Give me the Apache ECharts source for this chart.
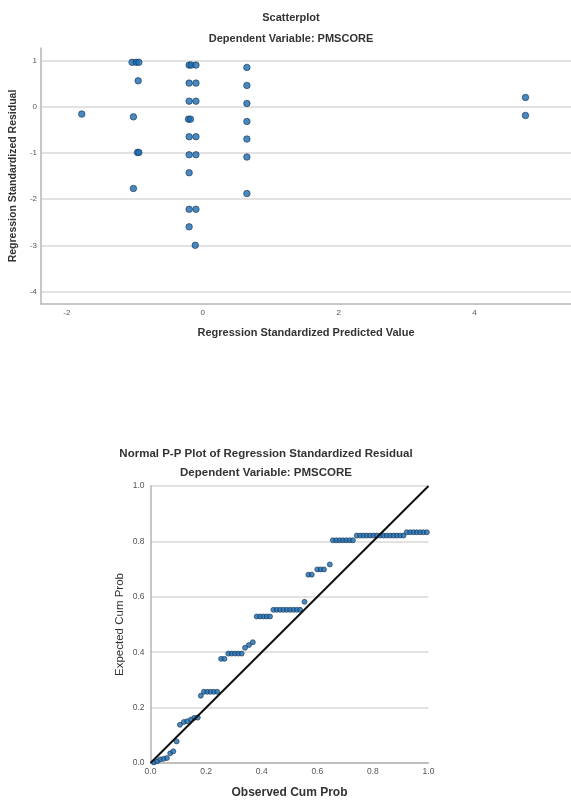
<!DOCTYPE html>
<html>
<head>
<meta charset="utf-8">
<script src="https://cdn.jsdelivr.net/npm/echarts@6/dist/echarts.min.js"></script>
<style>
  html, body { margin: 0; padding: 0; background: #fff; }
  #chart { width: 571px; height: 800px; }
</style>
</head>
<body>
<div id="chart"></div>
<script>
// Residuals vs. predicted values (standardized)
const predictedValues = [
  -1.78,
  -1.04, -0.98, -0.94, -0.95, -1.02, -0.96, -0.94, -1.02,
  -0.20, -0.17, -0.10, -0.20, -0.10, -0.20, -0.10, -0.21, -0.18,
  -0.20, -0.10, -0.20, -0.10, -0.20, -0.20, -0.10, -0.20, -0.11,
  0.65, 0.65, 0.65, 0.65, 0.65, 0.65, 0.65,
  4.75, 4.75
];
const residualValues = [
  -0.16,
  0.96, 0.96, 0.96, 0.56, -0.22, -0.99, -0.99, -1.77,
  0.90, 0.90, 0.90, 0.51, 0.51, 0.12, 0.12, -0.27, -0.27,
  -0.65, -0.65, -1.04, -1.04, -1.43, -2.22, -2.22, -2.60, -3.00,
  0.85, 0.46, 0.07, -0.32, -0.70, -1.09, -1.88,
  0.20, -0.19
];
const residualTicks = [-4, -3, -2, -1, 0, 1];
const predictedTicks = [-2, 0, 2, 4];

// Normal P-P plot: observed vs. expected cumulative probability
const observedCumProb = [
  0.012, 0.024, 0.035, 0.047, 0.059, 0.071, 0.082, 0.094,
  0.106, 0.120, 0.132, 0.146, 0.158, 0.170,
  0.181,
  0.192, 0.204, 0.216, 0.228, 0.240,
  0.254, 0.266,
  0.280, 0.292, 0.304, 0.316, 0.328,
  0.340, 0.354, 0.368,
  0.382, 0.394, 0.406, 0.418, 0.430,
  0.442, 0.454, 0.466, 0.478, 0.490, 0.502, 0.514, 0.526, 0.538,
  0.554,
  0.568, 0.580,
  0.600, 0.612, 0.624,
  0.645,
  0.656, 0.668, 0.680, 0.692, 0.704, 0.716, 0.728,
  0.742, 0.754, 0.766, 0.778, 0.790, 0.802, 0.814, 0.826, 0.838, 0.850, 0.862, 0.874, 0.886, 0.898, 0.910,
  0.922, 0.934, 0.946, 0.958, 0.970, 0.982, 0.994
];
const expectedCumProb = [
  0.002, 0.006, 0.013, 0.015, 0.018, 0.035, 0.042, 0.078,
  0.138, 0.148, 0.151, 0.157, 0.163, 0.164,
  0.243,
  0.257, 0.257, 0.257, 0.257, 0.257,
  0.376, 0.376,
  0.395, 0.395, 0.395, 0.395, 0.395,
  0.416, 0.426, 0.436,
  0.529, 0.529, 0.529, 0.529, 0.529,
  0.553, 0.553, 0.553, 0.553, 0.553, 0.553, 0.553, 0.553, 0.553,
  0.582,
  0.680, 0.680,
  0.699, 0.699, 0.699,
  0.717,
  0.804, 0.804, 0.804, 0.804, 0.804, 0.804, 0.804,
  0.821, 0.821, 0.821, 0.821, 0.821, 0.821, 0.821, 0.821, 0.821, 0.821, 0.821, 0.821, 0.821, 0.821, 0.821,
  0.833, 0.833, 0.833, 0.833, 0.833, 0.833, 0.833
];
const referenceLine = [0, 1];
const probTicks = [0, 0.2, 0.4, 0.6, 0.8, 1.0];

const FONT = 'Liberation Sans, Arial, sans-serif';
const gridColor = '#e2e2e2';
const axisColor = '#b4b4b4';
const labelColor = '#555';
const dotStyle = { color: '#1a6cb2', borderColor: '#173654', borderWidth: 0.8 };

const zip = (a, b) => a.map((v, i) => [v, b[i]]);

const titleText = (text, x, y, size) => ({
  text, left: x, top: y, textAlign: 'center', padding: 0,
  textStyle: { fontFamily: FONT, fontSize: size, fontWeight: 'bold', color: '#333' }
});

const axisLineStyle = { show: true, onZero: false, lineStyle: { color: axisColor, width: 1.5 } };

const chart = echarts.init(document.getElementById('chart'), null, { renderer: 'canvas' });

chart.setOption({
  backgroundColor: '#fff',
  animation: false,
  title: [
    titleText('Scatterplot', 291, 12, 11),
    titleText('Dependent Variable: PMSCORE', 291, 33, 11),
    titleText('Normal P-P Plot of Regression Standardized Residual', 266, 448, 11.5),
    titleText('Dependent Variable: PMSCORE', 266, 467, 11.5)
  ],
  grid: [
    { left: 39, right: -12, top: 48, height: 256 },
    { left: 150.5, width: 278, top: 486, height: 279 }
  ],
  xAxis: [
    {
      gridIndex: 0, type: 'value', min: -2.38, max: 5.42,
      name: 'Regression Standardized Predicted Value',
      nameLocation: 'middle', nameGap: 23,
      nameTextStyle: { fontFamily: FONT, fontSize: 11, fontWeight: 'bold', color: '#333' },
      axisLine: axisLineStyle,
      axisTick: { show: false, customValues: predictedTicks },
      axisLabel: { customValues: predictedTicks, fontFamily: FONT, fontSize: 8, color: labelColor, margin: 5 },
      splitLine: { show: false }
    },
    {
      gridIndex: 1, type: 'value', min: 0, max: 1, interval: 0.2,
      name: 'Observed Cum Prob',
      nameLocation: 'middle', nameGap: 24,
      nameTextStyle: { fontFamily: FONT, fontSize: 12, fontWeight: 'bold', color: '#333' },
      axisLine: axisLineStyle,
      axisTick: { show: false },
      axisLabel: { customValues: probTicks, fontFamily: FONT, fontSize: 8.5, color: labelColor, margin: 4,
        formatter: v => v.toFixed(1) },
      splitLine: { show: false }
    }
  ],
  yAxis: [
    {
      gridIndex: 0, type: 'value', min: -4.27, max: 1.27,
      name: 'Regression Standardized Residual',
      nameLocation: 'middle', nameGap: 13,
      nameTextStyle: { fontFamily: FONT, fontSize: 10.5, fontWeight: 'bold', color: '#333' },
      axisLine: axisLineStyle,
      axisTick: { show: false, customValues: residualTicks },
      axisLabel: { customValues: residualTicks, fontFamily: FONT, fontSize: 8, color: labelColor, margin: 4 },
      splitLine: { show: true, lineStyle: { color: gridColor, width: 2 } }
    },
    {
      gridIndex: 1, type: 'value', min: 0, max: 1, interval: 0.2,
      name: 'Expected Cum Prob',
      nameLocation: 'middle', nameGap: 25,
      nameTextStyle: { fontFamily: FONT, fontSize: 11.5, color: '#333' },
      axisLine: axisLineStyle,
      axisTick: { show: false, customValues: probTicks },
      axisLabel: { customValues: probTicks, fontFamily: FONT, fontSize: 8.5, color: labelColor, margin: 6,
        formatter: v => v.toFixed(1) },
      splitLine: { show: true, lineStyle: { color: gridColor, width: 2 } }
    }
  ],
  series: [
    {
      type: 'scatter', xAxisIndex: 0, yAxisIndex: 0,
      symbolSize: 6.5, itemStyle: dotStyle,
      data: zip(predictedValues, residualValues)
    },
    {
      type: 'scatter', xAxisIndex: 1, yAxisIndex: 1,
      symbolSize: 5, itemStyle: dotStyle,
      data: zip(observedCumProb, expectedCumProb)
    },
    {
      type: 'line', xAxisIndex: 1, yAxisIndex: 1, z: 5,
      symbol: 'none', silent: true,
      lineStyle: { color: '#111', width: 2 },
      data: zip(referenceLine, referenceLine)
    }
  ]
});
</script>
</body>
</html>
